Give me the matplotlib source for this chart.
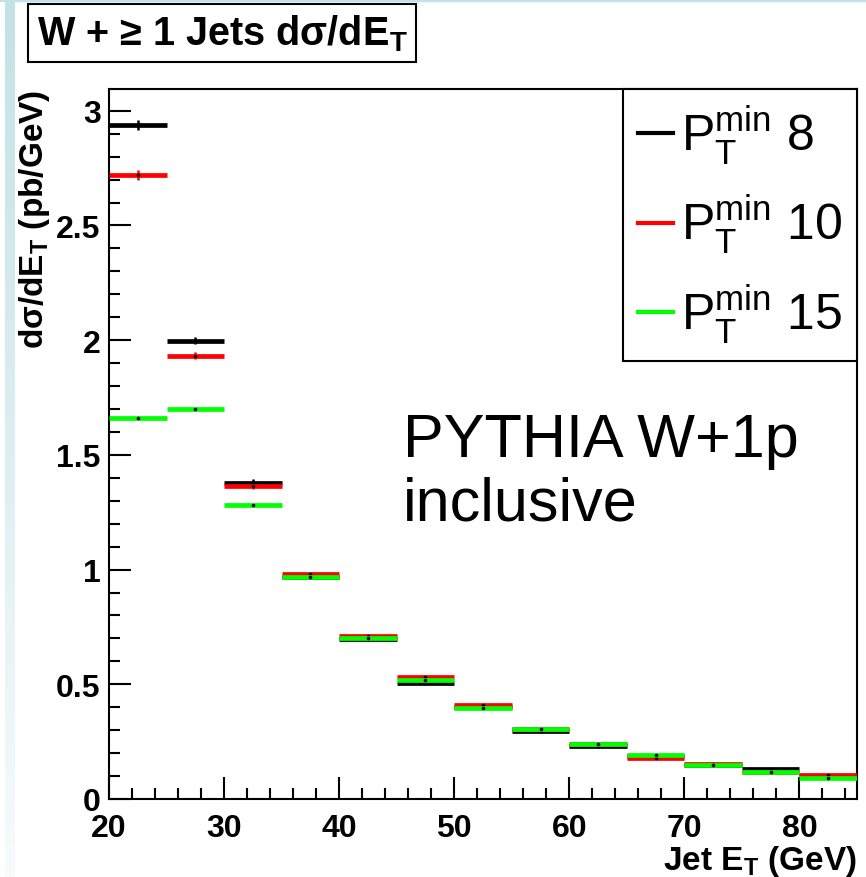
import numpy as np
import matplotlib.pyplot as plt
from matplotlib.lines import Line2D

plt.rcParams['font.family'] = ['Liberation Sans', 'DejaVu Sans']
plt.rcParams['mathtext.fontset'] = 'custom'
plt.rcParams['mathtext.rm'] = 'Liberation Sans'
plt.rcParams['mathtext.it'] = 'Liberation Sans:italic'
plt.rcParams['mathtext.bf'] = 'Liberation Sans:bold'

# jet E_T bins (GeV)
bin_edges = [20, 25, 30, 35, 40, 45, 50, 55, 60, 65, 70, 75, 80, 85]

# d(sigma)/dE_T in pb/GeV for each PT min cut
xs_pt8 = [2.938, 1.998, 1.379, 0.968, 0.698, 0.507, 0.400, 0.295, 0.229, 0.186, 0.150, 0.131, 0.099]
xs_pt10 = [2.720, 1.932, 1.363, 0.979, 0.711, 0.533, 0.408, 0.305, 0.240, 0.179, 0.151, 0.117, 0.105]
xs_pt15 = [1.660, 1.701, 1.280, 0.966, 0.702, 0.519, 0.397, 0.305, 0.241, 0.192, 0.150, 0.116, 0.093]

err_pt8 = [0.020, 0.015, 0.015, 0.010, 0.008, 0.007, 0.006, 0.005, 0.005, 0.004, 0.004, 0.003, 0.003]
err_pt10 = [0.020, 0.015, 0.012, 0.010, 0.008, 0.006, 0.005, 0.004, 0.004, 0.004, 0.003, 0.003, 0.003]
err_pt15 = [0.004, 0.004, 0.003, 0.003, 0.003, 0.002, 0.002, 0.002, 0.002, 0.002, 0.002, 0.002, 0.002]

labels = [r'$\mathregular{P_T^{min}}$ 8', r'$\mathregular{P_T^{min}}$ 10', r'$\mathregular{P_T^{min}}$ 15']
colors = ['black', '#ff0000', '#00ff00']

fig = plt.figure(figsize=(8.66, 8.78), dpi=100)

# pale slide border along the left and top edge
strip = fig.add_axes([5 / 866, 0, 10 / 866, 1])
grad = np.linspace(0, 1, 256).reshape(-1, 1)
strip.imshow(grad, aspect='auto', cmap=plt.matplotlib.colors.LinearSegmentedColormap.from_list(
    'slide', ['#c3e2e6', '#f7fbfc']), extent=(0, 1, 0, 1))
strip.set_axis_off()
fig.patches.append(plt.Rectangle((0, 1 - 2 / 878), 1, 2 / 878, transform=fig.transFigure,
                                 color='#c3e2e6', zorder=0))

ax = fig.add_axes([109 / 866, 1 - 800 / 878, (857 - 109) / 866, (800 - 90) / 878])

edges = np.array(bin_edges)
centers = 0.5 * (edges[:-1] + edges[1:])
series = [(xs_pt8, err_pt8), (xs_pt10, err_pt10), (xs_pt15, err_pt15)]
for i, ((vals, errs), c) in enumerate(zip(series, colors)):
    ax.hlines(vals, edges[:-1], edges[1:], colors=c, lw=3.4, zorder=2 + i)
    ax.errorbar(centers, vals, yerr=errs, fmt='o', ms=1.6, mfc='black', mec='black',
                ecolor=c, elinewidth=1.8, capsize=0, zorder=2 + i)

ax.set_xlim(20, 85)
ax.set_ylim(0, 3.095)
ax.set_xticks(np.arange(20, 81, 10))
ax.set_xticks(np.arange(20, 86, 2), minor=True)
ax.set_yticks([0, 0.5, 1, 1.5, 2, 2.5, 3])
ax.set_yticks(np.arange(0, 3.05, 0.1), minor=True)
ax.set_yticklabels(['0', '0.5', '1', '1.5', '2', '2.5', '3'])
ax.tick_params(which='both', direction='in', width=1.5, top=False, right=False)
ax.tick_params(which='major', length=16)
ax.tick_params(which='minor', length=8)
ax.tick_params(axis='x', labelsize=23, pad=10)
ax.tick_params(axis='y', labelsize=23, pad=6)
for lab in ax.get_xticklabels() + ax.get_yticklabels():
    lab.set_fontweight('bold')
for sp in ax.spines.values():
    sp.set_linewidth(1.5)

ax.set_xlabel(r'Jet E$_\mathbf{T}$ (GeV)', fontsize=24, fontweight='bold', loc='right', labelpad=0)
ax.set_ylabel(r'd$\mathbf{\sigma}$/dE$_\mathbf{T}$ (pb/GeV)', fontsize=24, fontweight='bold',
              loc='top', labelpad=3)

handles = [Line2D([], [], color=c, lw=3.0) for c in colors]
leg = ax.legend(handles, labels, loc='upper right', bbox_to_anchor=(1, 1), borderaxespad=0,
                fontsize=36, frameon=True, fancybox=False, edgecolor='black', framealpha=1,
                handlelength=0.7, handletextpad=0.15, borderpad=0.3, labelspacing=0.52)
leg.get_frame().set_linewidth(1.5)

ax.text(0.393, 0.545, 'PYTHIA W+1p\ninclusive', transform=ax.transAxes, fontsize=44,
        va='top', ha='left', linespacing=1.15)

fig.text(37 / 866, 1 - 34 / 878, r'W + ≥ 1 Jets dσ/dE$_\mathbf{T}$', fontsize=28.5,
         fontweight='bold', va='center', ha='left',
         bbox=dict(boxstyle='square,pad=0.22', fc='white', ec='black', lw=1.5))

fig.savefig('out.png', dpi=100)
